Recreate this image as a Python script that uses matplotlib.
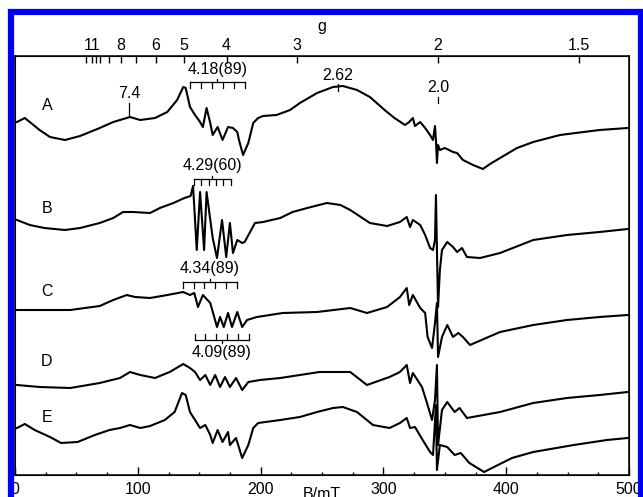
import numpy as np
import matplotlib.pyplot as plt
from matplotlib.patches import Rectangle

plt.rcParams['font.family'] = ['Liberation Sans', 'DejaVu Sans']
plt.rcParams['font.size'] = 11.5

hv = 689.0  # h*nu/muB in mT  ->  B = hv / g

# field (mT) and intensity (a.u.)
a_B = [1.6, 8, 12, 20, 28.5, 40.7, 53, 61, 69, 80, 85.5, 93.6, 102, 114, 124, 132, 137, 139, 142.5, 146.6,
       150.7, 153, 156, 159, 161, 165, 169, 173.5, 177.5, 181, 182.4, 185.7, 190, 194, 198, 202, 213, 224, 232, 246,
       259, 267, 278.5, 289, 301, 309, 317.6, 321, 324, 325.7, 330, 334, 338, 340.4, 342, 342.8, 343.6, 344.5, 346, 350,
       356.7, 360, 364.8, 373, 381, 386.8, 395, 408.8, 422, 443.8, 476, 499]
a_I = [353, 357, 353, 345, 338, 335, 339, 343, 347, 353, 355, 358, 355, 357, 363, 375, 388, 387, 368, 360,
       353, 348, 367, 352, 340, 348, 335, 348, 347, 343, 335, 320, 332, 352, 357, 359, 360, 365, 372, 382,
       388, 389, 385, 378, 365, 357, 350, 353, 357, 349, 353, 347, 340, 335, 349, 335, 312, 330, 325, 327,
       323, 322, 315, 310, 306, 311, 317, 327, 333, 340, 345, 347]

b_B = [1.6, 12, 24, 40.7, 53, 69, 80, 88, 96, 110, 118, 129, 138, 143, 145, 148, 150.7, 154, 156, 161,
       164.5, 168.6, 172, 175, 177.5, 181, 185, 187, 191, 195.4, 202, 216, 226, 238, 254, 265, 273, 289, 303, 313.5,
       319, 321.7, 324, 330, 334, 338, 340.4, 342, 342.8, 343.6, 344.5, 346, 347.7, 352, 356.7, 360, 364, 368, 378.7, 395,
       422, 449.5, 476, 499]
b_I = [255, 250, 247, 245, 247, 252, 257, 263, 263, 262, 267, 272, 277, 279, 289, 225, 283, 225, 283, 237,
       217, 255, 218, 252, 222, 235, 232, 233, 242, 252, 253, 257, 263, 267, 272, 270, 265, 252, 249, 253,
       258, 248, 255, 250, 240, 227, 225, 235, 280, 225, 168, 205, 225, 233, 228, 223, 227, 218, 217, 222,
       235, 240, 243, 246]

c_B = [1.6, 20, 45, 69, 80, 91, 97.7, 110, 124, 137, 142.5, 146, 149, 153, 159, 164.5, 167, 170, 173.5, 176.7,
       181, 185, 189, 197, 218, 246, 273, 286.6, 303, 313.5, 319, 321, 324, 330, 334, 336, 339.6, 342, 343.6, 344.5,
       347.7, 352, 356.7, 361, 364.8, 370.5, 395, 422, 449.5, 476, 499]
c_I = [165, 165, 165, 169, 175, 180, 178, 177, 180, 183, 180, 182, 168, 180, 172, 148, 158, 148, 162, 148,
       163, 148, 155, 158, 162, 163, 167, 162, 168, 178, 187, 170, 180, 167, 162, 138, 127, 152, 172, 118,
       138, 150, 138, 142, 138, 130, 143, 150, 155, 158, 160]

d_B = [1.6, 20, 45, 69, 85.5, 93.6, 102, 114, 126, 137, 142.5, 146.6, 150.7, 155, 159, 163, 167, 171, 175, 180,
       185, 190, 199.5, 216, 232, 248, 273, 286.6, 305, 313.5, 319, 321.7, 324, 331.4, 335.5, 339.6, 342, 343.6, 344.5, 347.7,
       352, 358, 362, 368, 395, 422, 449.5, 476, 499]
d_I = [90, 88, 87, 92, 97, 103, 100, 97, 103, 111, 107, 103, 95, 100, 90, 100, 88, 98, 88, 97,
       85, 93, 95, 97, 100, 103, 103, 90, 98, 103, 110, 92, 102, 88, 72, 55, 75, 110, 30, 65,
       73, 63, 67, 57, 63, 72, 77, 80, 83]

e_B = [1.6, 8, 16, 28.5, 37.5, 51, 65, 77, 85.5, 93.6, 102, 110, 122, 130, 136, 139, 142.5, 146.6, 150.7, 155,
       159, 161, 165, 169, 173.5, 175, 180, 185, 190, 194, 198, 216, 232, 246, 259, 267, 278.5, 291.5, 305, 313.5,
       319, 321.7, 325.7, 332, 338, 340.4, 342.8, 343.6, 346, 352, 358, 363, 370, 382, 388.4, 404.7, 422, 455, 482, 499]
e_I = [47, 51, 45, 38, 32, 33, 40, 45, 47, 50, 47, 49, 55, 63, 82, 80, 63, 55, 47, 50,
       40, 32, 45, 33, 43, 30, 37, 17, 30, 47, 52, 55, 58, 63, 67, 68, 63, 50, 47, 52,
       57, 47, 48, 35, 23, 20, 70, 5, 30, 28, 20, 22, 12, 3, 7, 17, 23, 30, 35, 37]

traces = [(a_B, a_I), (b_B, b_I), (c_B, c_I), (d_B, d_I), (e_B, e_I)]
names = ['A', 'B', 'C', 'D', 'E']
name_pos = [370, 267, 184, 113, 58]

g_ticks = [12, 11, 10.5, 10, 9, 8, 7, 6, 5, 4, 3, 2, 1.5]
g_labels = ['', '11', '', '', '', '8', '', '6', '5', '4', '3', '2', '1.5']

# hyperfine combs: g centre, spacing (mT), text, bar height, text height, teeth direction
combs = [(4.18, 8.9, '4.18(89)', 393, 406, -1),
         (4.29, 6.0, '4.29(60)', 296, 310, -1),
         (4.34, 8.9, '4.34(89)', 193, 207, -1),
         (4.09, 8.9, '4.09(89)', 135, 122, 1)]
# single g markers: g, text, text height, marker top, marker bottom
marks = [(7.4, '7.4', 382, 372, 359),
         (2.62, '2.62', 400, 391, 384),
         (2.0, '2.0', 388, 378, 372)]

fig = plt.figure(figsize=(6.43, 4.97), dpi=100)
ax = fig.add_axes([15/643, 1-475/497, 614/643, 419/497])

for (bb, ii) in traces:
    ax.plot(bb, ii, color='black', lw=1.5, solid_joinstyle='round')

for n, y in zip(names, name_pos):
    ax.text(26, y, n, ha='center', va='center', fontsize=11.5)

for g, sp, txt, ybar, ytxt, d in combs:
    c = hv / g
    teeth = c + sp * np.arange(-2.5, 3.0, 1.0)
    ax.plot([teeth[0], teeth[-1]], [ybar, ybar], color='black', lw=0.9)
    for t in teeth:
        ax.plot([t, t], [ybar, ybar + d * 6], color='black', lw=0.9)
    ax.plot([c, c], [ybar, ybar - d * 3], color='black', lw=0.9)
    ax.text(c, ytxt, txt, ha='center', va='center', fontsize=11.5)

for g, txt, yt, y1, y2 in marks:
    ax.plot([hv / g, hv / g], [y1, y2], color='black', lw=0.9)
    ax.text(hv / g, yt, txt, ha='center', va='center', fontsize=11.5)

ax.set_xlim(0, 500)
ax.set_ylim(0, 419)
ax.set_yticks([])
ax.set_xticks(np.arange(0, 501, 100))
ax.set_xticks(np.arange(0, 501, 25), minor=True)
ax.tick_params(axis='x', which='major', direction='in', length=6, width=1, pad=5, labelsize=11.5)
ax.tick_params(axis='x', which='minor', direction='in', length=2.5, width=1)
for s in ax.spines.values():
    s.set_linewidth(1.1)

ax2 = ax.twiny()
ax2.set_xlim(0, 500)
ax2.set_xticks([hv / g for g in g_ticks])
ax2.set_xticklabels(g_labels)
ax2.tick_params(axis='x', direction='in', length=5, width=1, pad=2.5, labelsize=11.5)

fig.text(322/643, 1-27/497, 'g', ha='center', va='center', fontsize=11.5)
# x label sits partly below the bottom edge, as in the original figure crop
fig.text(322/643, 1-487/497, 'B/mT', ha='center', va='top', fontsize=11.5)

fig.add_artist(Rectangle((11/643, -0.1), 629.5/643, 1.1 - 12/497, transform=fig.transFigure,
                         fill=False, edgecolor='#0000f0', lw=4.5, zorder=10, clip_on=False))

fig.savefig('out.png', dpi=100)
